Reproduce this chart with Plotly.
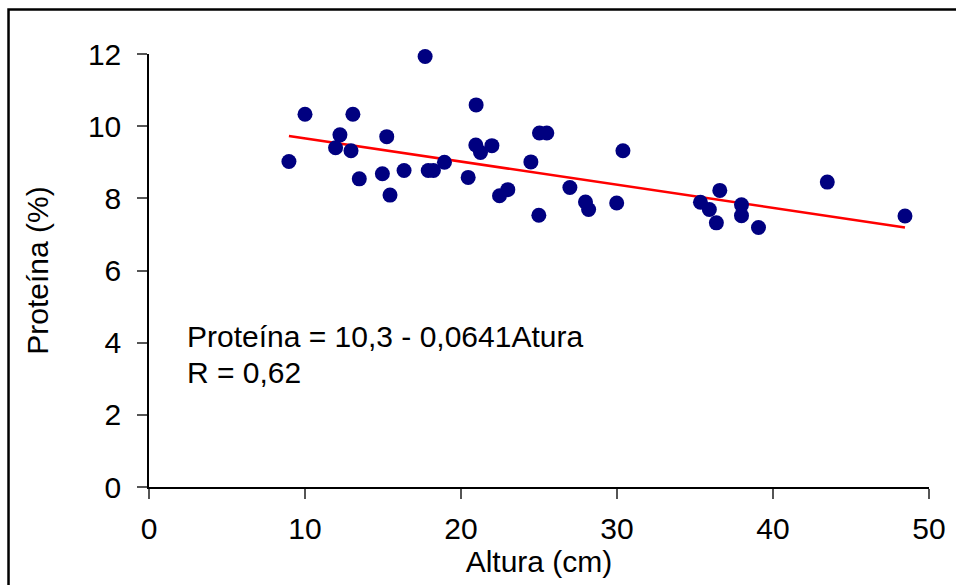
import plotly.graph_objects as go

altura = [17.7, 10.0, 13.07, 12.24, 15.24, 11.96, 12.95, 8.97, 18.94, 13.48,
          14.96, 16.35, 17.9, 18.23, 15.45,
          20.97, 25.03, 25.5, 20.95, 21.98, 21.25, 30.38, 24.48, 20.46, 26.98,
          23.0, 22.47, 27.98, 28.18, 29.98, 24.99,
          43.48, 36.59, 35.35, 35.92, 37.98, 37.98, 36.37, 39.07, 48.46]
proteina = [11.93, 10.33, 10.33, 9.76, 9.71, 9.40, 9.32, 9.02, 9.00, 8.54,
            8.68, 8.77, 8.77, 8.77, 8.09,
            10.59, 9.81, 9.81, 9.48, 9.46, 9.27, 9.32, 9.01, 8.58, 8.30,
            8.24, 8.07, 7.90, 7.69, 7.87, 7.53,
            8.45, 8.22, 7.89, 7.69, 7.82, 7.52, 7.32, 7.19, 7.51]

intercept = 10.3
slope = -0.0641
x_ticks = [0, 10, 20, 30, 40, 50]
y_ticks = [0, 2, 4, 6, 8, 10, 12]

FONT = "Liberation Sans, Arial, sans-serif"
FS = 30

x_line = [min(altura), max(altura)]
y_line = [intercept + slope * v for v in x_line]

fig = go.Figure()
fig.add_trace(go.Scatter(x=x_line, y=y_line, mode="lines",
                         line=dict(color="#ff0000", width=2.5), hoverinfo="skip"))
fig.add_trace(go.Scatter(x=altura, y=proteina, mode="markers", cliponaxis=False,
                         marker=dict(color="#000080", size=15, line=dict(width=0))))

fig.update_layout(
    width=956, height=585,
    margin=dict(l=149, r=27, t=54, b=98, autoexpand=False),
    paper_bgcolor="white", plot_bgcolor="white",
    showlegend=False,
    font=dict(family=FONT, size=FS, color="black"),
    xaxis=dict(range=[0, 50], tickvals=x_ticks, ticks="outside", ticklen=10,
               tickcolor="#555555", tickwidth=1.5, showline=True, linecolor="black",
               linewidth=1.5, showgrid=False, zeroline=False, automargin=False,
               tickfont=dict(size=FS), ticklabelstandoff=4,
               title=dict(text="Altura (cm)", font=dict(size=FS), standoff=0)),
    yaxis=dict(range=[0, 12], tickvals=y_ticks, ticks="outside", ticklen=10,
               tickcolor="#555555", tickwidth=1.5, showline=True, linecolor="black",
               linewidth=1.5, showgrid=False, zeroline=False, automargin=False,
               tickfont=dict(size=FS), ticklabelstandoff=10,
               title=dict(text="Proteína (%)", font=dict(size=FS), standoff=30)),
    annotations=[
        dict(x=2.3, y=4.17, xref="x", yref="y", text="Proteína = 10,3 - 0,0641Atura",
             showarrow=False, xanchor="left", yanchor="middle", font=dict(size=FS)),
        dict(x=2.3, y=3.17, xref="x", yref="y", text="R = 0,62",
             showarrow=False, xanchor="left", yanchor="middle", font=dict(size=FS)),
    ],
    shapes=[dict(type="rect", xref="paper", yref="paper",
                 x0=-0.1801, x1=1.3, y0=-0.5, y1=1.1028,
                 line=dict(color="black", width=2.5), fillcolor="rgba(0,0,0,0)",
                 layer="below")],
)

fig.write_html("out.html", config={"displayModeBar": False},
               post_script="document.body.style.margin='0';"
                           "document.body.style.overflow='hidden';")
